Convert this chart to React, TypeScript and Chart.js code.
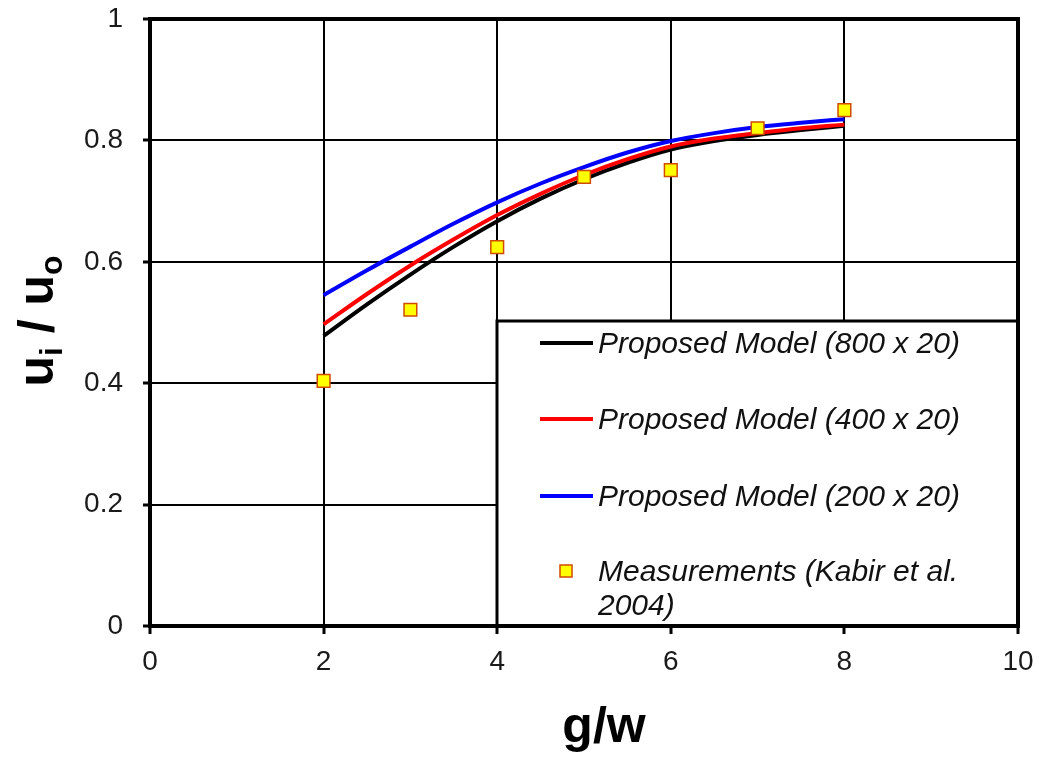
import React, { useEffect, useRef } from "react";
import { Chart, registerables } from "chart.js";

Chart.register(...registerables);

// ---- data ----
const gwValues = [2, 2.5, 3, 3.5, 4, 4.5, 5, 5.5, 6, 6.5, 7, 7.5, 8];
const model800 = [0.478, 0.530, 0.579, 0.625, 0.667, 0.704, 0.736, 0.763, 0.785, 0.799, 0.809, 0.817, 0.824];
const model400 = [0.497, 0.547, 0.594, 0.637, 0.677, 0.712, 0.743, 0.769, 0.790, 0.803, 0.812, 0.820, 0.826];
const model200 = [0.545, 0.586, 0.625, 0.663, 0.698, 0.729, 0.756, 0.780, 0.799, 0.812, 0.822, 0.829, 0.835];
const measX = [2, 3, 4, 5, 6, 7, 8];
const measY = [0.404, 0.521, 0.624, 0.740, 0.751, 0.820, 0.850];
const xTicks = [0, 2, 4, 6, 8, 10];
const yTicks = [0, 0.2, 0.4, 0.6, 0.8, 1];
const seriesLabels = [
  "Proposed Model (800 x 20)",
  "Proposed Model (400 x 20)",
  "Proposed Model (200 x 20)",
];
const measLabelLines = ["Measurements (Kabir et al.", "2004)"];
const seriesColors = ["#000000", "#ff0000", "#0000ff"];

const FONT = '"Liberation Sans", Arial, Helvetica, sans-serif';

const toPts = (xs: number[], ys: number[]) => xs.map((x, i) => ({ x, y: ys[i] }));

const overlayPlugin = {
  id: "overlay",
  afterDatasetsDraw(chart: any) {
    const { ctx, chartArea: a } = chart;
    ctx.save();
    // legend box
    const bx = 497;
    const by = 321;
    ctx.fillStyle = "#ffffff";
    ctx.fillRect(bx, by, a.right - bx, a.bottom - by);
    ctx.strokeStyle = "#000";
    ctx.lineWidth = 3;
    ctx.strokeRect(bx, by, a.right - bx, a.bottom - by);

    const rows = [343, 419, 496];
    ctx.font = `italic 30px ${FONT}`;
    ctx.textAlign = "left";
    ctx.textBaseline = "alphabetic";
    seriesLabels.forEach((lab, i) => {
      const y = rows[i];
      ctx.strokeStyle = seriesColors[i];
      ctx.lineWidth = 4;
      ctx.beginPath();
      ctx.moveTo(540, y);
      ctx.lineTo(593, y);
      ctx.stroke();
      ctx.fillStyle = "#111";
      ctx.fillText(lab, 598, y + 10);
    });
    // measurement marker
    ctx.fillStyle = "#ffff00";
    ctx.strokeStyle = "#d04a00";
    ctx.lineWidth = 1.5;
    ctx.fillRect(560, 565, 12, 12);
    ctx.strokeRect(560, 565, 12, 12);
    ctx.fillStyle = "#111";
    ctx.fillText(measLabelLines[0], 598, 581);
    ctx.fillText(measLabelLines[1], 598, 615);
    ctx.restore();
  },
  afterDraw(chart: any) {
    const { ctx, chartArea: a } = chart;
    ctx.save();
    ctx.strokeStyle = "#000";
    ctx.lineWidth = 4;
    ctx.strokeRect(a.left, a.top, a.right - a.left, a.bottom - a.top);

    // x title
    ctx.fillStyle = "#000";
    ctx.font = `bold 50px ${FONT}`;
    ctx.textAlign = "center";
    ctx.textBaseline = "alphabetic";
    ctx.fillText("g/w", 604, 742);

    // y title: u_i / u_o rotated
    ctx.translate(53, 321);
    ctx.rotate(-Math.PI / 2);
    const big = `bold 50px ${FONT}`;
    const small = `bold 32px ${FONT}`;
    const parts: [string, string, number][] = [
      ["u", big, 0],
      ["i", small, 9],
      [" / ", big, 0],
      ["u", big, 0],
      ["o", small, 9],
    ];
    let total = 0;
    parts.forEach(([t, f]) => {
      ctx.font = f;
      total += ctx.measureText(t).width;
    });
    let x = -total / 2;
    ctx.textAlign = "left";
    parts.forEach(([t, f, dy]) => {
      ctx.font = f;
      ctx.fillText(t, x, dy);
      x += ctx.measureText(t).width;
    });
    ctx.restore();
  },
};

export default function App() {
  const ref = useRef<HTMLCanvasElement | null>(null);

  useEffect(() => {
    if (!ref.current) return;
    const chart = new Chart(ref.current, {
      type: "scatter",
      data: {
        datasets: [
          {
            label: "Measurements (Kabir et al. 2004)",
            data: toPts(measX, measY),
            showLine: false,
            pointStyle: "rect",
            pointRadius: 9,
            pointBackgroundColor: "#ffff00",
            pointBorderColor: "#d04a00",
            pointBorderWidth: 1.5,
            order: 0,
          },
          ...[model800, model400, model200].map((ys, i) => ({
            label: seriesLabels[i],
            data: toPts(gwValues, ys),
            showLine: true,
            borderColor: seriesColors[i],
            backgroundColor: seriesColors[i],
            borderWidth: 4,
            pointRadius: 0,
            cubicInterpolationMode: "monotone" as const,
            order: 3 - i,
          })),
        ],
      },
      options: {
        animation: false,
        responsive: false,
        layout: { padding: { left: 0, right: 21, top: 19, bottom: 0 } },
        plugins: { legend: { display: false }, tooltip: { enabled: false } },
        scales: {
          x: {
            type: "linear",
            min: 0,
            max: 10,
            afterFit: (s: any) => {
              s.height = 134;
              s.paddingLeft = 0;
              s.paddingRight = 0;
            },
            afterBuildTicks: (s: any) => {
              s.ticks = xTicks.map((v) => ({ value: v }));
            },
            grid: {
              color: "#000",
              lineWidth: 2,
              tickLength: 8,
              tickColor: "#000",
              tickWidth: 3,
            },
            border: { display: true, color: "#000", width: 4 },
            ticks: {
              color: "#1a1a1a",
              font: { family: FONT, size: 28 },
              padding: 11,
              maxRotation: 0,
              callback: (v: any) => String(v),
            },
          },
          y: {
            type: "linear",
            min: 0,
            max: 1,
            afterFit: (s: any) => {
              s.width = 150;
              s.paddingTop = 0;
              s.paddingBottom = 0;
            },
            afterBuildTicks: (s: any) => {
              s.ticks = yTicks.map((v) => ({ value: v }));
            },
            grid: {
              color: "#000",
              lineWidth: 2,
              tickLength: 7,
              tickColor: "#000",
              tickWidth: 3,
            },
            border: { display: true, color: "#000", width: 4 },
            ticks: {
              color: "#1a1a1a",
              font: { family: FONT, size: 28 },
              padding: 20,
              callback: (v: any) => (v === 0 ? "0" : v === 1 ? "1" : Number(v).toFixed(1)),
            },
          },
        },
      },
      plugins: [overlayPlugin],
    });
    return () => chart.destroy();
  }, []);

  return (
    <div style={{ position: "fixed", left: 0, top: 0, width: 1039, height: 760, background: "#fff" }}>
      <canvas ref={ref} width={1039} height={760} style={{ display: "block" }} />
    </div>
  );
}
